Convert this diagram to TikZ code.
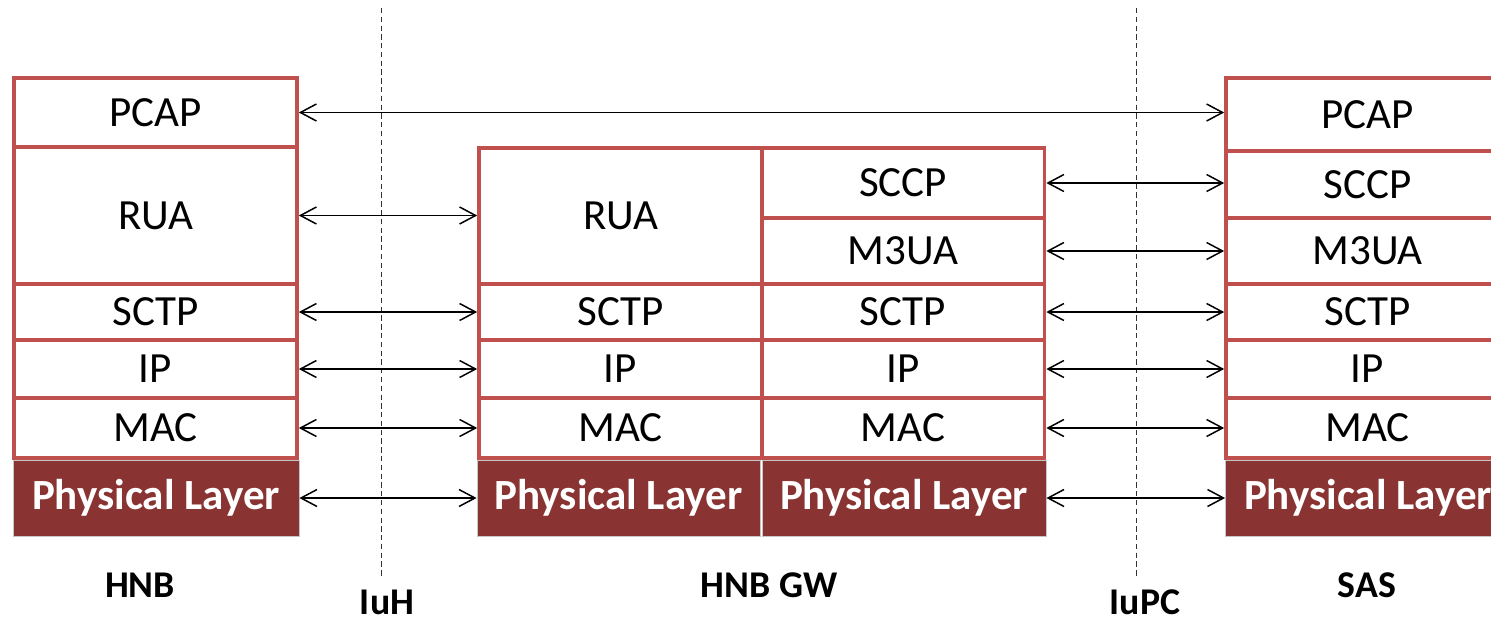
\documentclass[tikz,border=0pt]{standalone}
\usepackage{fontspec}
\setmainfont{Carlito}
\usetikzlibrary{arrows.meta}
\definecolor{boxred}{RGB}{192,80,77}
\definecolor{phyred}{RGB}{137,52,50}
\tikzset{
	layer/.style={draw=boxred, line width=2.1pt, minimum width=5.66cm, inner sep=0pt, font=\fontsize{24.5}{28}\selectfont},
	phy/.style={fill=phyred, draw=gray!45, line width=0.5pt, text=white, minimum height=1.52cm, inner sep=0pt, font=\bfseries\fontsize{24.5}{28}\selectfont},
	link/.style={{Straight Barb[length=3.2mm,width=3.4mm]}-{Straight Barb[length=3.2mm,width=3.4mm]}, line width=0.85pt},
	iface/.style={dash pattern=on 3pt off 2pt, line width=0.5pt, black!80},
	entity/.style={inner sep=0pt, font=\bfseries\fontsize{21.5}{25}\selectfont}
}

\begin{document}
\begin{tikzpicture}[x=0.02cm, y=-0.02cm]
		\useasboundingbox (0,0) rectangle (1491,626);
		\clip (0,0) rectangle (1491,626);
		% interface lines
		\coordinate (iuhTop) at (381,8);
		\coordinate (iuhBot) at (381,576);
		\coordinate (iupcTop) at (1136,8);
		\coordinate (iupcBot) at (1136,576);
		\draw[iface] (iuhTop) -- (iuhBot);
		\draw[iface] (iupcTop) -- (iupcBot);
		% HNB
		\node[layer, minimum height=1.38cm] (hnbPcap) at (155.5,112.5) {PCAP};
		\node[layer, minimum height=2.74cm] (hnbRua) at (155.5,215.5) {RUA};
		\node[layer, minimum height=1.12cm] (hnbSctp) at (155.5,312) {SCTP};
		\node[layer, minimum height=1.16cm] (hnbIp) at (155.5,369) {IP};
		\node[layer, minimum height=1.2cm] (hnbMac) at (155.5,428) {MAC};
		\node[phy, minimum width=5.72cm] (hnbPhy) at (156,498) {Physical Layer};
		% HNB GW
		\node[layer, minimum height=2.72cm] (gwRua) at (620.5,216) {RUA};
		\node[layer, minimum height=1.4cm] (gwSccp) at (903,183) {SCCP};
		\node[layer, minimum height=1.32cm] (gwMtua) at (903,251) {M3UA};
		\node[layer, minimum height=1.12cm] (gwSctpA) at (620.5,312) {SCTP};
		\node[layer, minimum height=1.12cm] (gwSctpB) at (903,312) {SCTP};
		\node[layer, minimum height=1.16cm] (gwIpA) at (620.5,369) {IP};
		\node[layer, minimum height=1.16cm] (gwIpB) at (903,369) {IP};
		\node[layer, minimum height=1.2cm] (gwMacA) at (620.5,428) {MAC};
		\node[layer, minimum height=1.2cm] (gwMacB) at (903,428) {MAC};
		\node[phy, minimum width=5.66cm] (gwPhyA) at (618.5,498) {Physical Layer};
		\node[phy, minimum width=5.68cm] (gwPhyB) at (904,498) {Physical Layer};
		% SAS
		\node[layer, minimum height=1.46cm] (sasPcap) at (1367.5,114.5) {PCAP};
		\node[layer, minimum height=1.34cm] (sasSccp) at (1367.5,184.5) {SCCP};
		\node[layer, minimum height=1.32cm] (sasMtua) at (1367.5,251) {M3UA};
		\node[layer, minimum height=1.12cm] (sasSctp) at (1367.5,312) {SCTP};
		\node[layer, minimum height=1.16cm] (sasIp) at (1367.5,369) {IP};
		\node[layer, minimum height=1.2cm] (sasMac) at (1367.5,428) {MAC};
		\node[phy, minimum width=5.7cm] (sasPhy) at (1368,498) {Physical Layer};
		% peer links
		\draw[link] (hnbPcap.east) -- (hnbPcap.east -| sasPcap.west);
		\draw[link] (hnbRua.east) -- (hnbRua.east -| gwRua.west);
		\draw[link] (hnbSctp.east) -- (hnbSctp.east -| gwSctpA.west);
		\draw[link] (hnbIp.east) -- (hnbIp.east -| gwIpA.west);
		\draw[link] (hnbMac.east) -- (hnbMac.east -| gwMacA.west);
		\draw[link] (hnbPhy.east) -- (hnbPhy.east -| gwPhyA.west);
		\draw[link] (gwSccp.east) -- (gwSccp.east -| sasSccp.west);
		\draw[link] (gwMtua.east) -- (gwMtua.east -| sasMtua.west);
		\draw[link] (gwSctpB.east) -- (gwSctpB.east -| sasSctp.west);
		\draw[link] (gwIpB.east) -- (gwIpB.east -| sasIp.west);
		\draw[link] (gwMacB.east) -- (gwMacB.east -| sasMac.west);
		\draw[link] (gwPhyB.east) -- (gwPhyB.east -| sasPhy.west);
		% entity names
		\node[entity] (hnbName) at (140,585) {HNB};
		\node[entity] (iuhName) at (387,602) {IuH};
		\node[entity] (gwName) at (769,585) {HNB GW};
		\node[entity] (iupcName) at (1145,602) {IuPC};
		\node[entity] (sasName) at (1367,585) {SAS};
	\end{tikzpicture}
\end{document}
